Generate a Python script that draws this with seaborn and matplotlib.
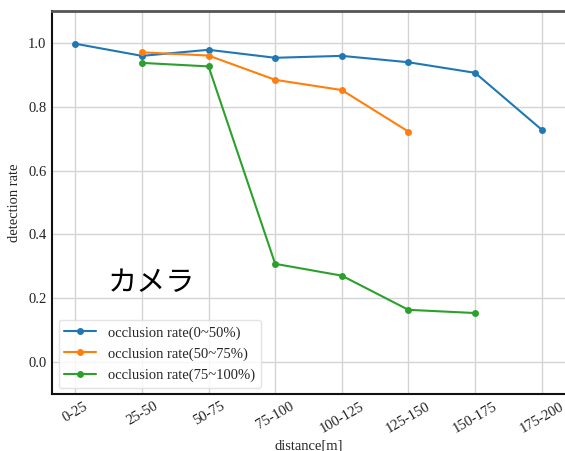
import matplotlib
matplotlib.use("Agg")
import matplotlib.pyplot as plt
import seaborn as sns
import pandas as pd

distances = ["0-25", "25-50", "50-75", "75-100", "100-125", "125-150", "150-175", "175-200"]
rate_0_50 = [0.997, 0.959, 0.978, 0.953, 0.959, 0.939, 0.906, 0.728]
rate_50_75 = [None, 0.970, 0.960, 0.884, 0.852, 0.722, None, None]
rate_75_100 = [None, 0.937, 0.926, 0.308, 0.271, 0.164, 0.154, None]
series_names = ["occlusion rate(0~50%)", "occlusion rate(50~75%)", "occlusion rate(75~100%)"]

sns.set_theme(style="whitegrid")
plt.rcParams["font.family"] = ["Liberation Serif", "DejaVu Serif"]
plt.rcParams["xtick.direction"] = "in"
plt.rcParams["ytick.direction"] = "in"

rows = []
for name, vals in zip(series_names, [rate_0_50, rate_50_75, rate_75_100]):
    for i, v in enumerate(vals):
        if v is not None:
            rows.append({"pos": i, "rate": v, "series": name})
df = pd.DataFrame(rows)

fig, ax = plt.subplots(figsize=(5.65, 4.51), dpi=100)
fig.subplots_adjust(left=0.092, right=1.0, top=0.976, bottom=0.126)

palette = ["#1f77b4", "#ff7f0e", "#2ca02c"]
sns.lineplot(data=df, x="pos", y="rate", hue="series", hue_order=series_names,
             palette=palette, marker="o", markersize=5, markeredgewidth=0,
             linewidth=1.5, ax=ax)

ax.set_xlim(-0.35, 7.35)
ax.set_ylim(-0.1, 1.1)
ax.set_xticks(range(len(distances)))
ax.set_xticklabels(distances, rotation=30, ha="center")
ax.set_yticks([0.0, 0.2, 0.4, 0.6, 0.8, 1.0])
ax.set_yticklabels(["0.0", "0.2", "0.4", "0.6", "0.8", "1.0"])
ax.tick_params(axis="both", labelsize=10.5, colors="#222222", length=3, width=0.8)
ax.tick_params(axis="x", pad=4)
ax.tick_params(axis="y", pad=4)
ax.set_xlabel("distance[m]", fontsize=10.5, labelpad=3)
ax.set_ylabel("detection rate", fontsize=10.5, labelpad=5)

ax.grid(True, color="#d4d4d4", linewidth=1.0)
for side in ["left", "bottom"]:
    ax.spines[side].set_color("#111111")
    ax.spines[side].set_linewidth(1.5)
ax.spines["top"].set_color("#555555")
ax.spines["top"].set_linewidth(2.0)
ax.spines["right"].set_visible(False)

ax.text(1.14, 0.248, "カメラ", fontsize=21, ha="center", va="center",
        family=["Noto Sans CJK JP", "DejaVu Sans"], color="black")

leg = ax.legend(loc="lower left", fontsize=10.5, frameon=True, borderaxespad=0.45,
                handlelength=2.2, labelspacing=0.52)
leg.get_frame().set_edgecolor("#dddddd")

fig.savefig("out.png", dpi=100)
